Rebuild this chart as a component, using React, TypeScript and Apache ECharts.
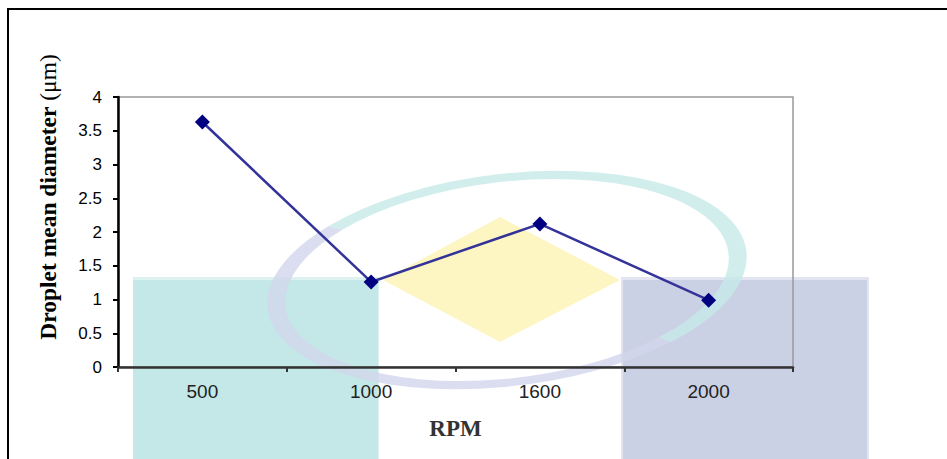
import React, { useEffect, useRef } from "react";
import * as echarts from "echarts";

const categories = ["500", "1000", "1600", "2000"];
const diameters = [3.63, 1.26, 2.12, 0.99];
const yTitleMain = "Droplet mean diameter";
const yTitleUnit = " (μm)";
const xTitle = "RPM";

export default function App() {
  const ref = useRef<HTMLDivElement>(null);
  useEffect(() => {
    if (!ref.current) return;
    const chart = echarts.init(ref.current, null, { renderer: "svg" });
    const ringCx = 507;
    const ringCy = 280;
    chart.setOption({
      animation: false,
      backgroundColor: "#ffffff",
      grid: {
        left: 118,
        right: 154,
        top: 97,
        bottom: 92,
        show: true,
        borderColor: "#999999",
        borderWidth: 1.5,
        backgroundColor: "transparent",
      },
      graphic: [
        // watermark
        { type: "rect", z: -10, shape: { x: 133, y: 277, width: 246, height: 200 }, style: { fill: "#dcf1f0" } },
        { type: "rect", z: -9, shape: { x: 133, y: 280, width: 245, height: 200 }, style: { fill: "#c4e8e7" } },
        { type: "rect", z: -10, shape: { x: 621, y: 277, width: 248, height: 200 }, style: { fill: "#e2e5f1" } },
        { type: "rect", z: -9, shape: { x: 623, y: 280, width: 244, height: 200 }, style: { fill: "#cbd1e5" } },
        {
          type: "polygon",
          z: -9,
          shape: { points: [[500, 217], [620, 280], [500, 342], [383, 280]] },
          style: { fill: "#fdf5c2" },
        },
        {
          type: "group",
          x: ringCx,
          y: ringCy,
          rotation: 0.12,
          scaleY: 0.44,
          z: -8,
          children: [
            {
              type: "arc",
              z: -8,
              shape: { cx: 0, cy: 0, r: 232, startAngle: (225 * Math.PI) / 180, endAngle: (410 * Math.PI) / 180 },
              style: { stroke: "#c6eae9", lineWidth: 18, fill: null, opacity: 0.8 },
            },
            {
              type: "arc",
              z: -8,
              shape: { cx: 0, cy: 0, r: 232, startAngle: (50 * Math.PI) / 180, endAngle: (225 * Math.PI) / 180 },
              style: { stroke: "#d2d6ec", lineWidth: 18, fill: null, opacity: 0.8 },
            },
          ],
        },
        // outer border
        {
          type: "rect",
          z: 20,
          shape: { x: 8, y: 9, width: 960, height: 480 },
          style: { fill: null, stroke: "#000000", lineWidth: 2 },
        },
        // y axis title
        {
          type: "text",
          z: 20,
          x: 48,
          y: 197,
          rotation: Math.PI / 2,
          style: {
            text: "{b|" + yTitleMain + "}{n|" + yTitleUnit + "}",
            align: "center",
            verticalAlign: "middle",
            rich: {
              b: { fontFamily: "Liberation Serif", fontWeight: "bold", fontSize: 23.5, fill: "#000" },
              n: { fontFamily: "Liberation Serif", fontWeight: "normal", fontSize: 23.5, fill: "#000" },
            },
          },
        },
      ],
      xAxis: {
        type: "category",
        data: categories,
        boundaryGap: true,
        name: xTitle,
        nameLocation: "middle",
        nameGap: 50,
        nameTextStyle: { fontFamily: "Liberation Serif", fontWeight: "bold", fontSize: 23, color: "#333333" },
        axisLine: { show: true, lineStyle: { color: "#333333", width: 2.5 } },
        axisTick: { show: true, length: 5, lineStyle: { color: "#333333", width: 2 } },
        axisLabel: { fontFamily: "Liberation Sans", fontSize: 19, color: "#222222", margin: 15 },
        splitLine: { show: false },
      },
      yAxis: {
        type: "value",
        min: 0,
        max: 4,
        interval: 0.5,
        axisLine: { show: true, lineStyle: { color: "#000000", width: 2.5 } },
        axisTick: { show: true, length: 5, lineStyle: { color: "#000000", width: 2 } },
        axisLabel: { fontFamily: "Liberation Sans", fontSize: 17, color: "#000000", margin: 16 },
        splitLine: { show: false },
      },
      series: [
        {
          type: "line",
          data: diameters,
          symbol: "diamond",
          symbolSize: 15,
          itemStyle: { color: "#000080" },
          lineStyle: { color: "#333399", width: 2.5 },
          z: 5,
        },
      ],
    });
    return () => chart.dispose();
  }, []);
  return (
    <div
      ref={ref}
      style={{ position: "absolute", left: 0, top: 0, width: 947, height: 459 }}
    />
  );
}
